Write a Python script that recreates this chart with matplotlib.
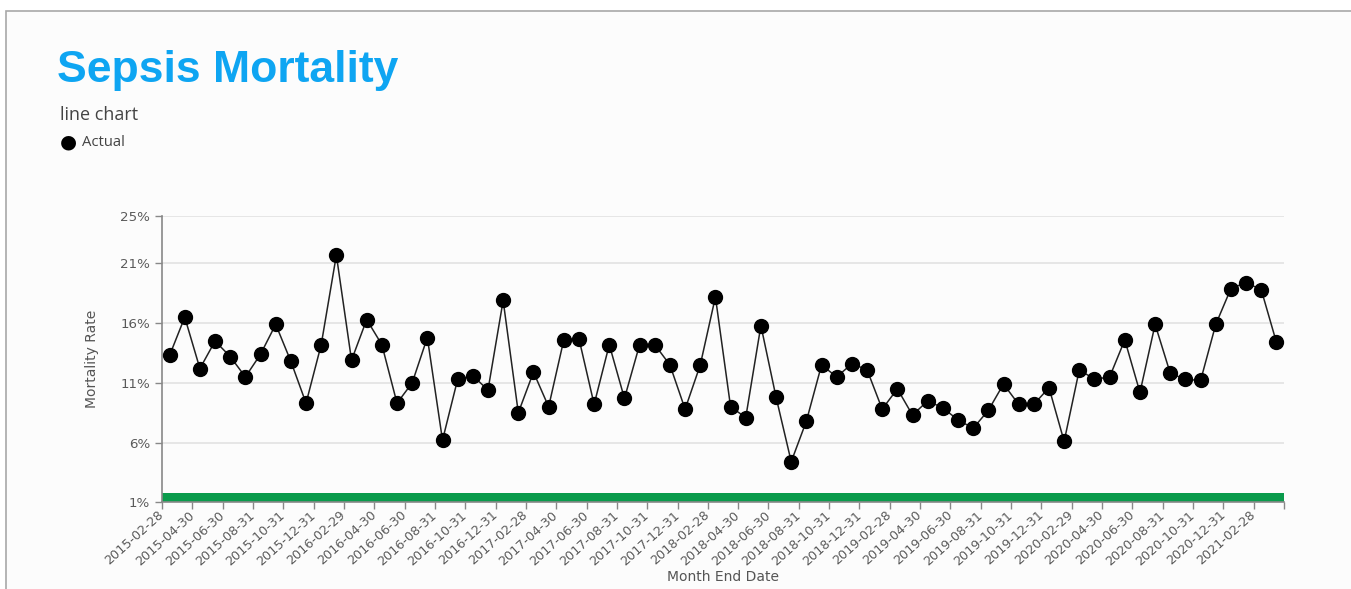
import matplotlib
matplotlib.use("Agg")
import matplotlib.pyplot as plt
import matplotlib.transforms as mtransforms
from matplotlib.patches import Rectangle
import numpy as np
import pandas as pd

# monthly sepsis mortality rate (%), month-end dates
months = pd.date_range("2015-02-28", "2021-03-31", freq="ME").strftime("%Y-%m-%d").tolist()
rate = [
    13.3, 16.5, 12.2, 14.5, 13.2, 11.5, 13.4, 15.9, 12.8, 9.3, 14.2, 21.7,
    12.9, 16.3, 14.2, 9.3, 11.0, 14.8, 6.2, 11.3, 11.6, 10.4, 17.9, 8.5,
    11.9, 9.0, 14.6, 14.7, 9.2, 14.2, 9.7, 14.2, 14.2, 12.5, 8.8, 12.5,
    18.2, 9.0, 8.1, 15.8, 9.8, 4.4, 7.8, 12.5, 11.5, 12.6, 12.1, 8.8,
    10.5, 8.3, 9.5, 8.9, 7.9, 7.2, 8.7, 10.9, 9.2, 9.2, 10.6, 6.1,
    12.1, 11.3, 11.5, 14.6, 10.2, 15.9, 11.8, 11.3, 11.2, 15.9, 18.9, 19.4,
    18.8, 14.4,
]
y_ticks = [1, 6, 11, 16, 21, 25]
target_band = (1, 1.75)

W, H = 1351, 589
fig = plt.figure(figsize=(W / 100, H / 100), dpi=100)
fig.patch.set_facecolor("white")
# panel background with a thin border on the top and left edges
fig.patches.append(Rectangle((6 / W, -0.1), 1.2, 1.1 - 11 / H, transform=fig.transFigure,
                             facecolor="#fcfcfc", edgecolor="#a8a8a8", linewidth=1.2, zorder=-5))

ax = fig.add_axes([162 / W, 1 - 502.3 / H, (1284 - 162) / W, (502.3 - 215.7) / H])
ax.set_facecolor("none")
ax.set_zorder(2)

x = np.arange(len(rate))
ax.axhspan(*target_band, color="#0a9b4c", zorder=2, lw=0)
ax.plot(x, rate, color="#222222", lw=1.1, marker="o", markersize=10,
        markerfacecolor="black", markeredgecolor="black", zorder=3)

ax.set_xlim(-0.5, len(rate) - 0.5)
ax.set_ylim(1, 25)
ax.set_yticks(y_ticks)
ax.set_yticklabels([f"{t}%" for t in y_ticks])
ax.grid(axis="y", color="#e2e2e2", lw=1.2, zorder=1)

tick_pos = list(x[::2] - 0.5) + [len(rate) - 0.5]
ax.set_xticks(tick_pos)
ax.set_xticklabels(months[::2] + [""], rotation=42, ha="right", va="center",
                   rotation_mode="anchor")
shift = mtransforms.ScaledTranslation(0.08, 0.02, fig.dpi_scale_trans)
for lbl in ax.get_xticklabels():
    lbl.set_transform(lbl.get_transform() + shift)

for s in ["top", "right"]:
    ax.spines[s].set_visible(False)
for s in ["left", "bottom"]:
    ax.spines[s].set_color("#888888")
    ax.spines[s].set_linewidth(1.2)
ax.tick_params(colors="#888888", length=5, width=1, labelsize=9.6, labelcolor="#5a5a5a")
ax.tick_params(axis="x", labelsize=9.2, pad=3)

ax.set_ylabel("Mortality Rate", fontsize=10, color="#555555")
ax.set_xlabel("Month End Date", fontsize=10, color="#555555")
ax.yaxis.set_label_coords((92 - 162) / (1284 - 162), 0.5)
ax.xaxis.set_label_coords((723 - 162) / (1284 - 162), -(577 - 502.3) / (502.3 - 215.7))
ax.xaxis.label.set_va("center")
ax.yaxis.label.set_va("center")

fig.text(57 / W, 1 - 82 / H, "Sepsis Mortality", fontsize=32, fontweight="bold",
         color="#0ea5f2", family="Liberation Sans", va="baseline")
fig.text(60 / W, 1 - 120 / H, "line chart", fontsize=13, color="#444444",
         family="Open Sans", va="baseline")
fig.text(68 / W, 1 - 142 / H, "\u25cf", fontsize=14, color="black", ha="center", va="center")
fig.text(82 / W, 1 - 146 / H, "Actual", fontsize=10.7, color="#444444",
         family="Open Sans", va="baseline")

fig.savefig("out.png", dpi=100)
